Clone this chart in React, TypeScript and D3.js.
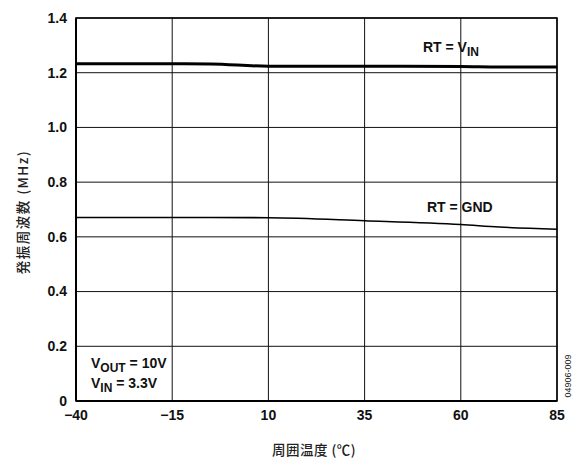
import React from "react";
import * as d3 from "d3";

const tempTicks = [-40, -15, 10, 35, 60, 85];
const freqTicks = [0, 0.2, 0.4, 0.6, 0.8, 1.0, 1.2, 1.4];

const vinTemp = [-40, -15, -5, 10, 35, 60, 70, 85];
const vinFreq = [1.233, 1.233, 1.232, 1.224, 1.224, 1.223, 1.221, 1.221];

const gndTemp = [-40, -15, 10, 35, 60, 70, 85];
const gndFreq = [0.671, 0.671, 0.670, 0.659, 0.645, 0.636, 0.628];

const W = 584;
const H = 460;
const margin = { left: 76, right: 27, top: 18, bottom: 59 };
const FONT = "'Liberation Sans', Arial, Helvetica, sans-serif";
const CJK = "'Noto Sans CJK JP', sans-serif";
const FS = 14;
const SUB = 12;

export default function App() {
  const x = d3.scaleLinear().domain([-40, 85]).range([margin.left, W - margin.right]);
  const y = d3.scaleLinear().domain([0, 1.4]).range([H - margin.bottom, margin.top]);

  const line = d3
    .line<[number, number]>()
    .x((d) => x(d[0]))
    .y((d) => y(d[1]))
    .curve(d3.curveMonotoneX);

  const vinPath = line(vinTemp.map((t, i) => [t, vinFreq[i]] as [number, number])) || "";
  const gndPath = line(gndTemp.map((t, i) => [t, gndFreq[i]] as [number, number])) || "";

  const x0 = x(-40);
  const x1 = x(85);
  const y0 = y(0);
  const y1 = y(1.4);

  const textProps = {
    fontFamily: FONT,
    fontSize: FS,
    fontWeight: "bold" as const,
    fill: "#111",
  };

  return (
    <svg
      width={W}
      height={H}
      style={{ position: "absolute", left: 0, top: 0, background: "#fff" }}
    >
      {/* grid */}
      {tempTicks.map((t) => (
        <line key={"gx" + t} x1={x(t)} x2={x(t)} y1={y1} y2={y0} stroke="#111" strokeWidth={1} />
      ))}
      {freqTicks.map((f) => (
        <line key={"gy" + f} x1={x0} x2={x1} y1={y(f)} y2={y(f)} stroke="#111" strokeWidth={1} />
      ))}
      {/* frame */}
      <rect x={x0} y={y1} width={x1 - x0} height={y0 - y1} fill="none" stroke="#000" strokeWidth={1.5} />
      <line x1={x0} x2={x0} y1={y1} y2={y0} stroke="#000" strokeWidth={2} />
      <line x1={x0} x2={x1} y1={y0} y2={y0} stroke="#000" strokeWidth={2} />

      {/* series */}
      <path d={vinPath} fill="none" stroke="#000" strokeWidth={3} />
      <path d={gndPath} fill="none" stroke="#000" strokeWidth={1.6} />

      {/* y tick labels */}
      {freqTicks.map((f) => (
        <text key={"ty" + f} x={x0 - 9} y={y(f)} dy="0.35em" textAnchor="end" {...textProps}>
          {f === 0 ? "0" : d3.format(".1f")(f)}
        </text>
      ))}
      {/* x tick labels */}
      {tempTicks.map((t) => (
        <text key={"tx" + t} x={x(t)} y={y0 + 19} textAnchor="middle" {...textProps}>
          {t < 0 ? "\u2212" + Math.abs(t) : String(t)}
        </text>
      ))}

      {/* series labels */}
      <text x={423} y={52} {...textProps}>
        RT = V<tspan fontSize={SUB} dy={4}>IN</tspan>
      </text>
      <text x={427} y={212} {...textProps}>
        RT = GND
      </text>

      {/* conditions */}
      <text x={91} y={368} {...textProps}>
        V<tspan fontSize={SUB} dy={4}>OUT</tspan>
        <tspan dy={-4}> = 10V</tspan>
      </text>
      <text x={91} y={388} {...textProps}>
        V<tspan fontSize={SUB} dy={4}>IN</tspan>
        <tspan dy={-4}> = 3.3V</tspan>
      </text>

      {/* axis titles */}
      <text
        x={314}
        y={455}
        textAnchor="middle"
        fontFamily={CJK}
        fontSize={13.5}
        fontWeight={500}
        letterSpacing={0.5}
        fill="#222"
      >
        周囲温度 (℃)
      </text>
      <text
        transform={`translate(28, ${212}) rotate(-90)`}
        textAnchor="middle"
        fontFamily={CJK}
        fontSize={13.5}
        fontWeight={500}
        letterSpacing={1.5}
        fill="#222"
      >
        発振周波数 (MHz)
      </text>

      {/* figure id */}
      <text
        transform={`translate(571, 376) rotate(-90)`}
        textAnchor="middle"
        fontFamily={FONT}
        fontSize={9}
        fill="#222"
      >
        04906-009
      </text>
    </svg>
  );
}
